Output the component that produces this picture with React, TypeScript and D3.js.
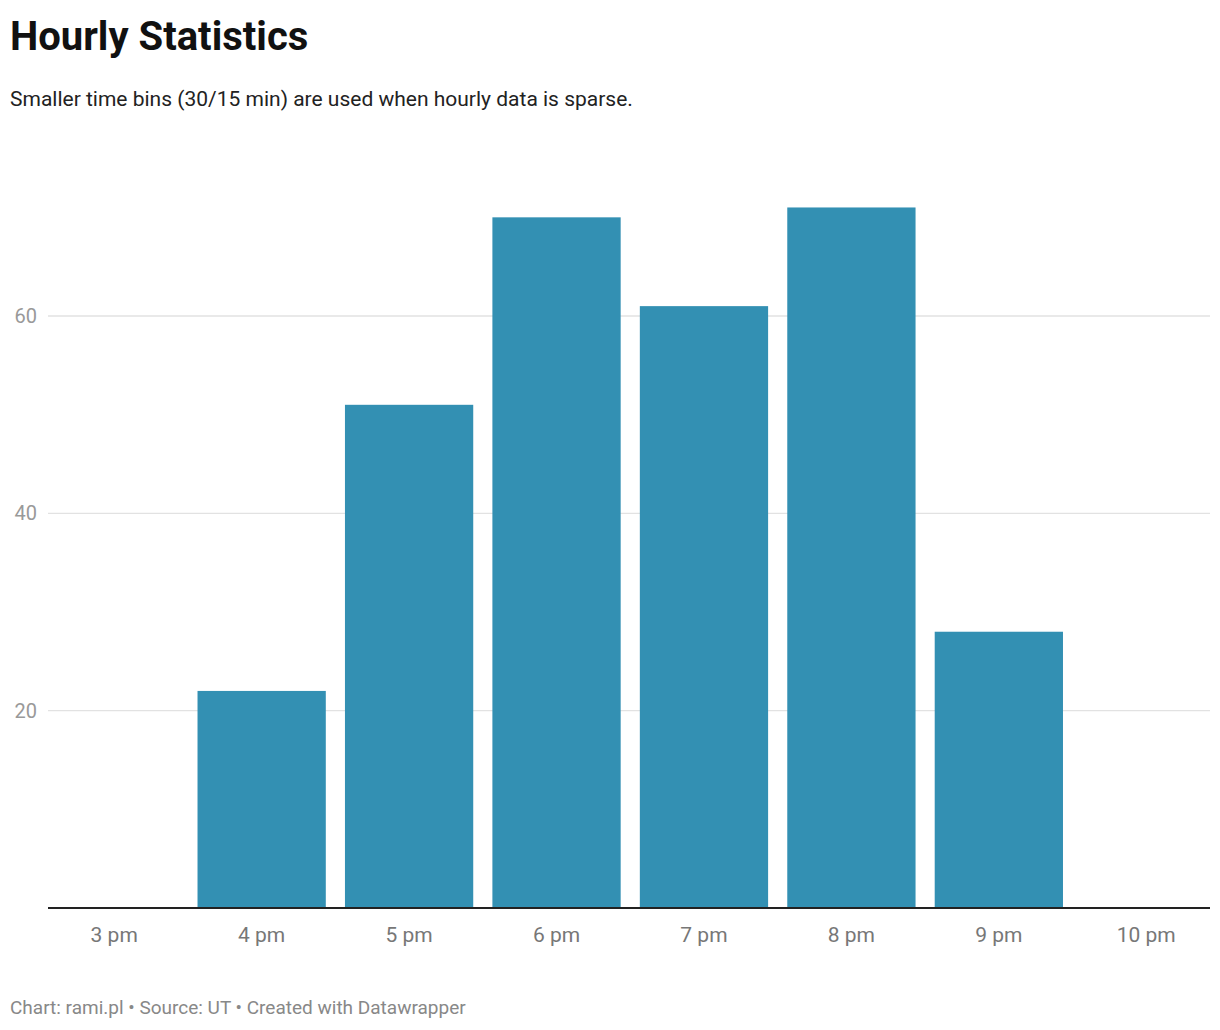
import * as d3 from "d3";

const categories = ["3 pm", "4 pm", "5 pm", "6 pm", "7 pm", "8 pm", "9 pm", "10 pm"];
const values = [0, 22, 51, 70, 61, 71, 28, 0];
const yTicks = [20, 40, 60];

const W = 1220;
const H = 1030;

export default function App() {
  const x = d3.scaleBand<string>().domain(categories).range([40.5, 1220]).paddingInner(0.13).paddingOuter(0.065);
  const y = d3.scaleLinear().domain([0, 60]).range([908, 316]);
  const font = "Roboto, sans-serif";

  return (
    <svg width={W} height={H} style={{ position: "absolute", left: 0, top: 0 }} fontFamily={font}>
      <rect width={W} height={H} fill="#fff" />
      <text x={10} y={50} fontSize={40} fontWeight={700} fill="#111">Hourly Statistics</text>
      <text x={10} y={106} fontSize={21} fill="#222">Smaller time bins (30/15 min) are used when hourly data is sparse.</text>

      {yTicks.map((t) => (
        <g key={t}>
          <line x1={48} x2={1210} y1={y(t)} y2={y(t)} stroke="#e2e2e2" strokeWidth={1.3} />
          <text x={37} y={y(t) + 7} fontSize={20} fill="#999" textAnchor="end">{t}</text>
        </g>
      ))}

      {categories.map((c, i) => (
        <g key={c}>
          {values[i] > 0 && (
            <rect x={x(c)} y={y(values[i])} width={x.bandwidth()} height={y(0) - y(values[i])} fill="#3390b3" />
          )}
          <text x={(x(c) ?? 0) + x.bandwidth() / 2} y={942} fontSize={21} fill="#777" textAnchor="middle">{c}</text>
        </g>
      ))}

      <line x1={48} x2={1210} y1={908} y2={908} stroke="#222" strokeWidth={2} />

      <text x={10} y={1014} fontSize={19} fill="#888">Chart: rami.pl • Source: UT • Created with Datawrapper</text>
    </svg>
  );
}
